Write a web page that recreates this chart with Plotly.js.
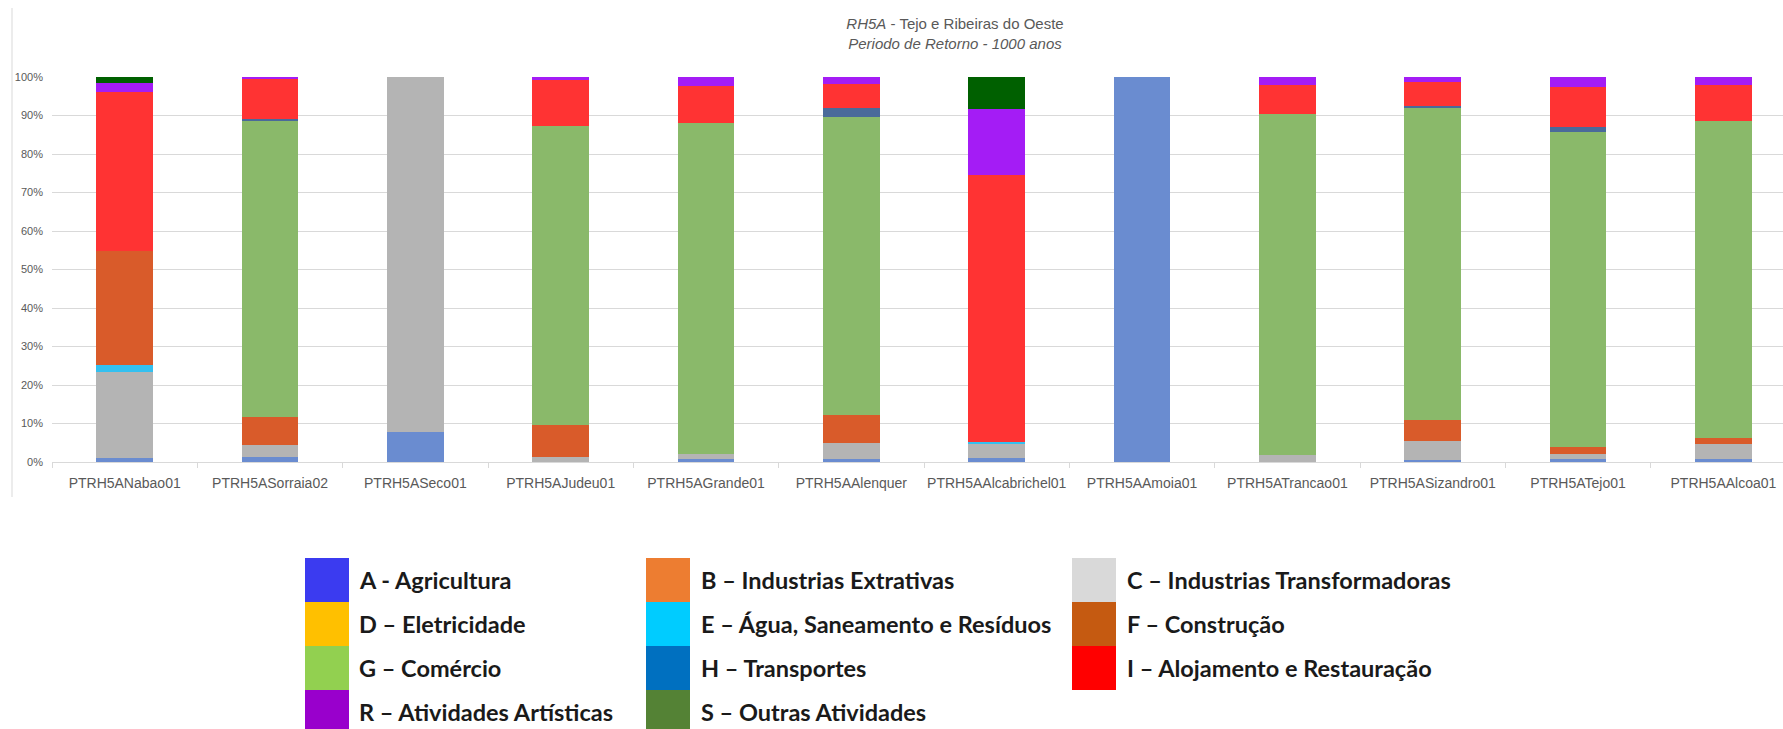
<!DOCTYPE html>
<html>
<head>
<meta charset="utf-8">
<script src="https://cdn.plot.ly/plotly-3.0.1.min.js"></script>
<style>html,body{margin:0;padding:0;background:#fff;}#chart{width:1783px;height:729px;}</style>
</head>
<body>
<div id="chart"></div>
<script>
// Categories (water bodies)
const categories = ["PTRH5ANabao01","PTRH5ASorraia02","PTRH5ASeco01","PTRH5AJudeu01","PTRH5AGrande01","PTRH5AAlenquer","PTRH5AAlcabrichel01","PTRH5AAmoia01","PTRH5ATrancao01","PTRH5ASizandro01","PTRH5ATejo01","PTRH5AAlcoa01"];

// Share of each economic activity (fraction of total)
const A_agricultura   = [0.010,0.013,0.077,0.000,0.009,0.009,0.010,1.000,0.000,0.006,0.008,0.008];
const B_extrativas    = [0,0,0,0,0,0,0,0,0,0,0,0];
const C_transform     = [0.225,0.030,0.923,0.013,0.012,0.040,0.038,0.000,0.019,0.048,0.013,0.039];
const D_eletricidade  = [0,0,0,0,0,0,0,0,0,0,0,0];
const E_agua          = [0.016,0.000,0.000,0.000,0.000,0.000,0.004,0.000,0.000,0.000,0.000,0.000];
const F_construcao    = [0.298,0.073,0.000,0.084,0.000,0.072,0.000,0.000,0.000,0.056,0.017,0.015];
const G_comercio      = [0.000,0.772,0.000,0.775,0.860,0.775,0.000,0.000,0.886,0.811,0.818,0.823];
const H_transportes   = [0.000,0.003,0.000,0.000,0.000,0.023,0.000,0.000,0.000,0.003,0.014,0.000];
const I_alojamento    = [0.411,0.105,0.000,0.120,0.096,0.063,0.693,0.000,0.075,0.063,0.103,0.093];
const R_artisticas    = [0.024,0.004,0.000,0.008,0.023,0.018,0.172,0.000,0.020,0.013,0.027,0.022];
const S_outras        = [0.016,0.000,0.000,0.000,0.000,0.000,0.083,0.000,0.000,0.000,0.000,0.000];

const seriesNames = ["A - Agricultura","B – Industrias Extrativas","C – Industrias Transformadoras","D – Eletricidade","E – Água, Saneamento e Resíduos","F – Construção","G – Comércio","H – Transportes","I – Alojamento e Restauração","R – Atividades Artísticas","S – Outras Atividades"];
const seriesValues = [A_agricultura,B_extrativas,C_transform,D_eletricidade,E_agua,F_construcao,G_comercio,H_transportes,I_alojamento,R_artisticas,S_outras];
const barColors    = ["#6a8cd0","#ed7d31","#b4b4b4","#ffc000","#33c0f0","#d95b2a","#8ab96a","#4a6a9a","#ff3333","#a41cf5","#006000"];
const legendColors = ["#3b3bf0","#ed7d31","#d9d9d9","#ffc000","#00ccff","#c55a11","#92d050","#0070c0","#ff0000","#9900cc","#548235"];

const yTickVals = [0,0.1,0.2,0.3,0.4,0.5,0.6,0.7,0.8,0.9,1.0];
const yTickText = ["0%","10%","20%","30%","40%","50%","60%","70%","80%","90%","100%"];

const traces = seriesNames.map((n,i)=>({
  type:"bar", name:n, x:categories, y:seriesValues[i],
  marker:{color:barColors[i], line:{width:0}},
  showlegend:false, hoverinfo:"x+y+name"
}));

// plot area geometry (pixels)
const W=1783, H=729, L=52, T=77, B=267;
const PW = W - L, PH = H - T - B;
const px2x = p => (p - L)/PW;
const py2y = p => (H - B - p)/PH;

// Custom legend layout (3 columns)
const legendCols = [
  {sx:305, tx:357, items:[0,3,6,9]},
  {sx:646, tx:699, items:[1,4,7,10]},
  {sx:1072, tx:1125, items:[2,5,8]}
];
const rowTop = 558, rowH = 44, swW = 44;
const shapes = [
  {type:"line", xref:"paper", yref:"paper", x0:px2x(12), x1:px2x(12), y0:py2y(8), y1:py2y(497), line:{color:"#d9d9d9", width:1}}
];
const annotations = [];
legendCols.forEach(col=>{
  col.items.forEach((si,r)=>{
    const top = rowTop + r*rowH;
    shapes.push({type:"rect", xref:"paper", yref:"paper",
      x0:px2x(col.sx), x1:px2x(col.sx+swW), y0:py2y(top+rowH), y1:py2y(top),
      fillcolor:legendColors[si], line:{width:0}});
    annotations.push({xref:"paper", yref:"paper", x:px2x(col.tx), y:py2y(top+rowH/2),
      xanchor:"left", yanchor:"middle", showarrow:false, text:seriesNames[si],
      font:{family:"Lato, 'Open Sans', sans-serif", size:23.5, color:"#1a1a1a", weight:"bold"}});
  });
});

const layout = {
  width:W, height:H,
  margin:{l:L, r:0, t:T, b:B, pad:0},
  paper_bgcolor:"#ffffff", plot_bgcolor:"#ffffff",
  barmode:"stack", bargap:0.61,
  title:{text:"<i>RH5A</i> - Tejo e Ribeiras do Oeste<br><i>Periodo de Retorno - 1000 anos</i>",
    font:{family:"Liberation Sans, Arial, sans-serif", size:15, color:"#595959"},
    x:955/W, xanchor:"center", xref:"container", y:1-29/H, yref:"container", yanchor:"top"},
  xaxis:{type:"category", range:[-0.5, 11.41], showgrid:false, zeroline:false,
    showline:true, linecolor:"#d9d9d9", linewidth:1,
    ticks:"outside", tickson:"boundaries", ticklen:5, tickcolor:"#d9d9d9",
    ticklabelstandoff:8,
    tickfont:{family:"Liberation Sans, Arial, sans-serif", size:14, color:"#595959"},
    tickangle:0, fixedrange:true},
  yaxis:{range:[0,1], tickvals:yTickVals, ticktext:yTickText, showgrid:true,
    gridcolor:"#d9d9d9", gridwidth:1, zeroline:false, showline:false, ticks:"",
    ticklabelstandoff:8,
    tickfont:{family:"Liberation Sans, Arial, sans-serif", size:11, color:"#595959"}, fixedrange:true},
  shapes:shapes, annotations:annotations
};

Plotly.newPlot("chart", traces, layout, {displayModeBar:false, responsive:false});
</script>
</body>
</html>
